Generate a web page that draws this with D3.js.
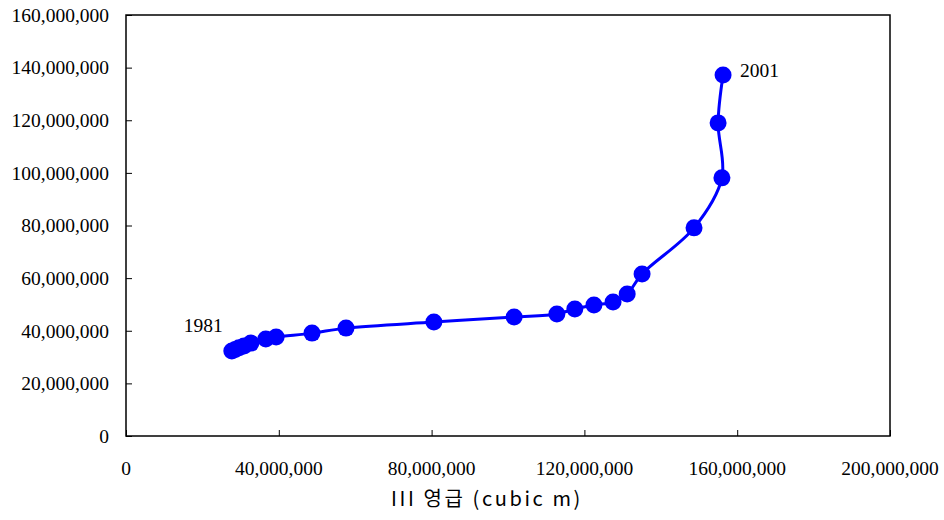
<!DOCTYPE html>
<html>
<head>
<meta charset="utf-8">
<script src="https://cdn.jsdelivr.net/npm/d3@7"></script>
<style>
  html, body { margin: 0; padding: 0; background: #fff; }
  svg { display: block; }
</style>
</head>
<body>
<svg id="chart" width="944" height="520"></svg>
<script>
// Growing stock (cubic m) vs. year-on-year series, 1981–2001
const years = [1981, 1982, 1983, 1984, 1985, 1986, 1987, 1988, 1989, 1990, 1991,
               1992, 1993, 1994, 1995, 1996, 1997, 1998, 1999, 2000, 2001];
const xValues = [27.7e6, 28.6e6, 29.6e6, 30.9e6, 32.7e6, 36.6e6, 39.3e6, 48.7e6, 57.6e6, 80.6e6, 101.6e6,
                 112.8e6, 117.5e6, 122.5e6, 127.5e6, 131.2e6, 135.1e6, 148.7e6, 156.0e6, 155.0e6, 156.3e6];
const yValues = [32.3e6, 32.9e6, 33.5e6, 34.2e6, 35.3e6, 36.9e6, 37.6e6, 39.1e6, 41.0e6, 43.3e6, 45.2e6,
                 46.4e6, 48.3e6, 49.8e6, 50.9e6, 54.0e6, 61.6e6, 79.1e6, 98.1e6, 119.0e6, 137.2e6];
const xTicks = [0, 40e6, 80e6, 120e6, 160e6, 200e6];
const yTicks = [0, 20e6, 40e6, 60e6, 80e6, 100e6, 120e6, 140e6, 160e6];
const xTitle = "III 영급 (cubic m)";

const svg = d3.select("#chart");
const plotLeft = 126, plotRight = 890, plotTop = 15, plotBottom = 436;

const x = d3.scaleLinear().domain([0, 200e6]).range([plotLeft, plotRight]);
const y = d3.scaleLinear().domain([0, 160e6]).range([plotBottom, plotTop]);
const fmt = d3.format(",");
const serif = "'Liberation Serif', 'Times New Roman', serif";
const labelSize = "19.5px";

// Plot frame
svg.append("rect")
  .attr("x", plotLeft).attr("y", plotTop)
  .attr("width", plotRight - plotLeft).attr("height", plotBottom - plotTop)
  .attr("fill", "none").attr("stroke", "#000").attr("stroke-width", 1.5);

// Y axis (ticks point inward)
const yAxis = svg.append("g").attr("transform", `translate(${plotLeft},0)`)
  .call(d3.axisRight(y).tickValues(yTicks).tickSize(6).tickFormat(""));
yAxis.select(".domain").remove();
yAxis.selectAll("line").attr("stroke", "#000").attr("stroke-width", 1);
svg.append("g").selectAll("text").data(yTicks).join("text")
  .attr("x", 109).attr("y", d => y(d)).attr("dy", "0.35em")
  .attr("text-anchor", "end")
  .style("font-family", serif).style("font-size", labelSize).attr("fill", "#000")
  .text(d => fmt(d));

// X axis (ticks point inward)
const xAxis = svg.append("g").attr("transform", `translate(0,${plotBottom})`)
  .call(d3.axisTop(x).tickValues(xTicks).tickSize(6).tickFormat(""));
xAxis.select(".domain").remove();
xAxis.selectAll("line").attr("stroke", "#000").attr("stroke-width", 1);
svg.append("g").selectAll("text").data(xTicks).join("text")
  .attr("x", d => x(d)).attr("y", 475)
  .attr("text-anchor", "middle")
  .style("font-family", serif).style("font-size", labelSize).attr("fill", "#000")
  .text(d => fmt(d));

// X axis title
svg.append("text")
  .attr("x", 487).attr("y", 506)
  .attr("text-anchor", "middle")
  .style("font-family", "'Noto Sans CJK KR', 'Noto Sans', sans-serif")
  .style("font-size", "20px").style("letter-spacing", "2.6px")
  .attr("fill", "#000")
  .text(xTitle);

// Data series
const pts = years.map((yr, i) => ({ year: yr, x: xValues[i], y: yValues[i] }));

svg.append("path")
  .datum(pts)
  .attr("fill", "none")
  .attr("stroke", "#0000ff")
  .attr("stroke-width", 3)
  .attr("d", d3.line().x(d => x(d.x)).y(d => y(d.y)).curve(d3.curveCatmullRom.alpha(0.5)));

svg.append("g").selectAll("circle").data(pts).join("circle")
  .attr("cx", d => x(d.x)).attr("cy", d => y(d.y)).attr("r", 8.5)
  .attr("fill", "#0000ff");

// End labels
const first = pts[0], last = pts[pts.length - 1];
svg.append("text")
  .attr("x", x(first.x) - 48).attr("y", y(first.y) - 19)
  .style("font-family", serif).style("font-size", labelSize).attr("fill", "#000")
  .text(first.year);
svg.append("text")
  .attr("x", x(last.x) + 17).attr("y", y(last.y) + 2)
  .style("font-family", serif).style("font-size", labelSize).attr("fill", "#000")
  .text(last.year);
</script>
</body>
</html>
